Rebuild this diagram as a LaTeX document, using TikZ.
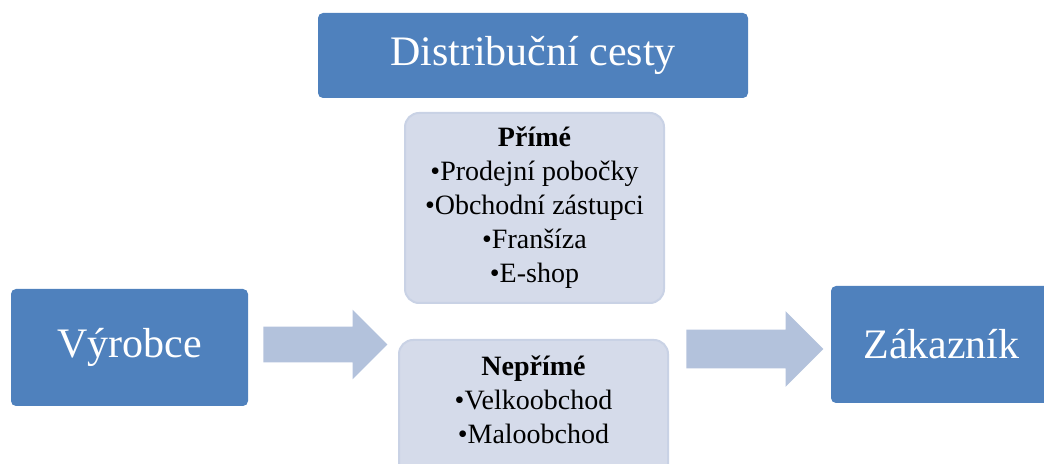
\documentclass[tikz,border=0pt]{standalone}
\usepackage{fontspec}
\setmainfont{Liberation Serif}
\usetikzlibrary{shapes.arrows}
\definecolor{boxblue}{HTML}{4F81BD}
\definecolor{boxgrey}{HTML}{D5DBEA}
\definecolor{boxedge}{HTML}{C9D2E5}
\definecolor{arrowblue}{HTML}{B3C2DC}
\begin{document}
\begin{tikzpicture}[x=0.5pt,y=-0.5pt,
    bluebox/.style={fill=boxblue,text=white,rounded corners=2.5pt,
                    font=\fontsize{21}{25}\selectfont},
    greybox/.style={fill=boxgrey,draw=boxedge,line width=1pt,
                    rounded corners=7pt,align=center,
                    font=\fontsize{14}{17}\selectfont},
    blockarrow/.style={single arrow,fill=arrowblue,inner xsep=0pt,
                       anchor=tail,single arrow head extend=#1}]
  \useasboundingbox (0,0) rectangle (1044,464);
  \clip (0,0) rectangle (1044,464);
  \node[bluebox,
        minimum width=215pt,
        minimum height=42.5pt]
    (title) at (533,55.5) {Distribuční cesty};
  \node[greybox,
        minimum width=129.5pt,
        minimum height=95pt]
    (prime) at (534.5,208)
    {\textbf{Přímé}\\•Prodejní pobočky\\•Obchodní zástupci\\•Franšíza\\•E-shop};
  \node[greybox,
        minimum width=134.5pt,
        minimum height=70pt]
    (indirect) at (533.5,410)
    {\textbf{Nepřímé}\\•Velkoobchod\\•Maloobchod\\[-7pt]\mbox{}};
  \node[bluebox,
        minimum width=118.5pt,
        minimum height=58.5pt]
    (maker) at (129.5,347.5) {Výrobce};
  \node[bluebox,
        minimum width=110.5pt,
        minimum height=58.5pt]
    (customer) at (941.5,344.5) {Zákazník};
  % block arrows between the columns
  \node[blockarrow=8.5pt,
        inner ysep=8.75pt,
        minimum height=62pt]
    (arrowin) at (263,344.5) {};
  \node[blockarrow=9.25pt,
        inner ysep=9.5pt,
        minimum height=68.5pt]
    (arrowout) at (686,349) {};
\end{tikzpicture}
\end{document}
